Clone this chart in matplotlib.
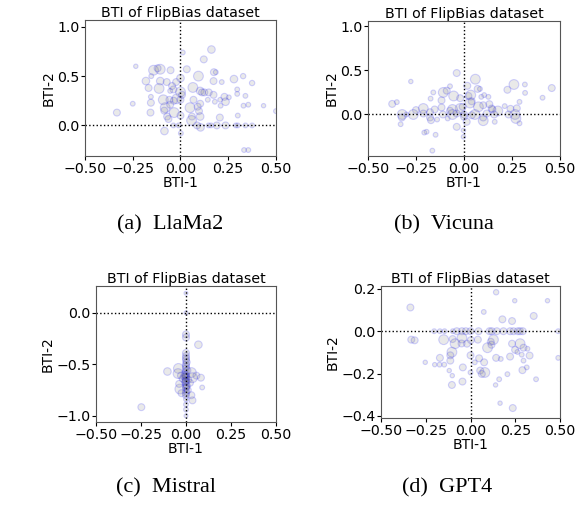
import matplotlib.pyplot as plt

# LlaMa2
llama_x = [-0.234, -0.333, -0.25, 0.012, 0.162, 0.122, 0.033, 0.094, 0.175, 0.185, 0.28, 0.328, 0.375,
           0.173, 0.216, -0.141, -0.106, -0.12, -0.052, -0.181, -0.153, -0.106, -0.167, -0.112, -0.072,
           -0.023, 0.0, -0.044, -0.037, 0.065, 0.103, 0.113, 0.125, 0.148, 0.173, -0.155, -0.155, -0.09,
           -0.058, -0.019, 0.0, -0.035, 0.068, 0.103, 0.143, 0.208, 0.23, 0.253, 0.297, 0.34, 0.297,
           0.236, 0.18, 0.21, 0.355, 0.33, 0.435, 0.5, -0.08, -0.085, -0.054, -0.033, 0.0, 0.05, 0.09,
           0.097, 0.103, 0.06, -0.157, -0.07, -0.063, 0.058, 0.087, 0.105, 0.147, 0.16, 0.19, 0.236,
           0.29, 0.30, 0.34, 0.375, 0.206, 0.30, -0.037, -0.01, -0.084, 0.002, 0.333, 0.355, 0.0,
           0.008, -0.054]
llama_y = [0.60, 0.13, 0.22, 0.74, 0.77, 0.67, 0.57, 0.50, 0.54, 0.54, 0.47, 0.50, 0.43,
           0.45, 0.44, 0.56, 0.57, 0.58, 0.56, 0.45, 0.50, 0.45, 0.38, 0.375, 0.44,
           0.44, 0.48, 0.40, 0.365, 0.385, 0.35, 0.335, 0.335, 0.335, 0.31, 0.29, 0.23, 0.26,
           0.26, 0.27, 0.26, 0.25, 0.26, 0.22, 0.26, 0.26, 0.29, 0.285, 0.32, 0.30, 0.365,
           0.24, 0.24, 0.20, 0.21, 0.20, 0.20, 0.145, 0.18, 0.15, 0.21, 0.13, 0.10, 0.18, 0.19,
           0.145, 0.09, 0.09, 0.13, 0.09, 0.065, 0.05, 0.0, -0.02, 0.0, 0.0, 0.0, 0.0,
           0.0, 0.0, 0.0, 0.0, 0.08, 0.10, 0.0, 0.0, -0.057, -0.08, -0.25, -0.25, 0.34,
           0.31, 0.35]
llama_s = [10, 25, 12, 12, 30, 25, 25, 50, 25, 12, 30, 15, 15,
           25, 12, 50, 50, 25, 25, 30, 12, 30, 25, 50, 25,
           25, 30, 25, 25, 50, 30, 25, 25, 25, 25, 12, 25, 50,
           25, 50, 25, 25, 25, 25, 12, 12, 25, 12, 12, 12, 12,
           30, 12, 12, 12, 12, 10, 12, 50, 25, 25, 50, 25, 50, 25,
           25, 30, 25, 25, 25, 25, 50, 25, 30, 12, 12, 25, 25,
           12, 12, 12, 12, 25, 12, 12, 12, 30, 12, 12, 12, 50,
           25, 12]

# Vicuna
vicuna_x = [-0.277, -0.374, -0.35, -0.038, 0.059, 0.017, 0.071, 0.083, -0.073, -0.108, -0.09, -0.16,
            -0.174, -0.117, -0.054, -0.02, 0.023, 0.035, 0.04, 0.09, 0.105, 0.127, 0.226, 0.26,
            0.317, 0.318, 0.289, 0.409, 0.457, 0.212, 0.242, 0.275, 0.176, 0.148, 0.132, 0.10,
            0.075, -0.02, -0.06, -0.073, -0.117, -0.153, -0.212, -0.25, -0.177, -0.212, -0.264,
            -0.322, -0.324, -0.33, -0.30, -0.177, -0.172, -0.14, -0.11, -0.195, -0.207, -0.148,
            -0.165, -0.085, -0.06, -0.038, 0.0, 0.0, 0.014, -0.003, -0.003, 0.057, 0.1, 0.1,
            0.04, 0.118, 0.16, 0.157, 0.232, 0.266, 0.27, 0.289, -0.038, 0.144, 0.031, -0.007]
vicuna_y = [0.374, 0.12, 0.14, 0.47, 0.40, 0.325, 0.29, 0.29, 0.32, 0.25, 0.27, 0.25,
            0.18, 0.16, 0.21, 0.185, 0.21, 0.22, 0.15, 0.20, 0.22, 0.20, 0.28, 0.34,
            0.34, 0.245, 0.143, 0.19, 0.30, 0.095, 0.064, 0.07, 0.04, 0.057, 0.117, 0.105,
            0.087, 0.068, 0.057, 0.042, 0.08, 0.057, 0.068, 0.05, 0.026, 0.011, 0.0,
            0.0, -0.034, -0.11, 0.0, -0.034, -0.064, -0.057, 0.0, -0.196, -0.205, -0.23,
            -0.41, -0.045, 0.0, 0.011, 0.0, -0.026, -0.083, -0.18, -0.253, 0.0, -0.07, -0.034,
            -0.008, 0.011, -0.083, 0.0, 0.0, 0.0, -0.045, -0.10, -0.14, 0.068, 0.13, 0.087]
vicuna_s = [10, 25, 12, 25, 50, 25, 25, 12, 12, 50, 25, 12,
            12, 25, 50, 25, 25, 50, 25, 12, 12, 12, 25, 50,
            12, 12, 12, 12, 25, 12, 25, 25, 50, 25, 25, 25,
            50, 50, 50, 25, 25, 25, 50, 25, 25, 25, 50,
            50, 25, 12, 12, 25, 25, 12, 25, 12, 12, 12,
            12, 12, 50, 25, 25, 25, 25, 10, 10, 50, 50, 25,
            25, 25, 12, 25, 25, 50, 50, 12, 25, 25, 50, 25]

# Mistral
mistral_x = [0.0, 0.0, 0.0, 0.0, 0.069, 0.0, 0.0, 0.0, 0.0, 0.0, 0.0, 0.0, 0.0, 0.0, 0.0, 0.0,
             0.0, 0.0, 0.0, 0.0, 0.0, 0.0, 0.0, 0.0, 0.0, 0.0, 0.0, 0.0, 0.0, 0.0,
             -0.103, -0.042, -0.044, -0.028, 0.03, 0.036, 0.012, 0.058, 0.083, 0.09, -0.034,
             -0.038, -0.025, 0.03, 0.036, -0.248, 0.022, -0.018, -0.008, 0.008, 0.005, -0.005,
             0.01, -0.01, 0.004]
mistral_y = [0.19, 0.0, -0.21, -0.24, -0.31, -0.39, -0.42, -0.46, -0.50, -0.52, -0.54, -0.57,
             -0.60, -0.62, -0.63, -0.65, -0.67, -0.70, -0.72, -0.73, -0.76, -0.78, -0.80, -0.84,
             -0.89, -0.94, -1.0, -0.44, -0.66, -0.61,
             -0.57, -0.54, -0.59, -0.61, -0.58, -0.63, -0.65, -0.61, -0.63, -0.725, -0.74,
             -0.69, -0.78, -0.80, -0.85, -0.916, -0.68, -0.64, -0.60, -0.56, -0.71, -0.67,
             -0.75, -0.62, -0.48]
mistral_s = [8, 8, 25, 25, 30, 25, 25, 25, 25, 25, 25, 25, 25, 25, 25, 25, 25, 25, 25, 25,
             25, 25, 25, 12, 12, 12, 8, 25, 25, 25,
             30, 50, 50, 25, 50, 50, 25, 25, 25, 12, 50,
             25, 25, 25, 25, 25, 25, 25, 25, 25, 25, 25,
             25, 25, 25]

# GPT4
gpt4_x = [-0.336, 0.143, 0.247, 0.43, 0.074, 0.178, 0.232, 0.353, -0.203, -0.171, -0.145, -0.099,
          -0.077, -0.048, -0.026, 0.0, 0.045, 0.106, 0.119, 0.147, 0.184, 0.221, 0.240, 0.264,
          0.277, 0.292, -0.331, -0.312, -0.15, -0.10, -0.048, -0.086, -0.02, -0.05, 0.041, 0.128,
          0.113, 0.095, 0.117, 0.002, 0.0, 0.232, 0.277, 0.296, 0.318, 0.33, 0.286, 0.249, 0.262,
          0.296, 0.314, 0.29, 0.366, -0.104, -0.113, -0.113, -0.171, -0.2, -0.173, -0.147,
          -0.253, -0.119, -0.102, -0.104, -0.045, -0.043, 0.0, 0.024, 0.048, 0.076, 0.054, 0.08,
          0.063, 0.143, 0.169, 0.221, 0.206, 0.16, 0.14, 0.165, 0.236, 0.49, 0.49]
gpt4_y = [0.112, 0.184, 0.144, 0.144, 0.091, 0.056, 0.048, 0.072, 0.0, 0.0, 0.0, 0.0,
          0.0, 0.0, 0.0, 0.0, 0.0, 0.0, 0.0, 0.0, 0.0, 0.0, 0.0, 0.0,
          0.0, 0.0, -0.04, -0.043, -0.04, -0.037, -0.032, -0.059, -0.059, -0.058, -0.04, -0.04,
          -0.05, -0.078, -0.064, -0.042, -0.114, -0.059, -0.059, -0.078, -0.083, -0.115, -0.111, -0.088,
          -0.098, -0.139, -0.171, -0.184, -0.227, -0.099, -0.114, -0.139, -0.126, -0.158, -0.158,
          -0.158, -0.147, -0.186, -0.21, -0.254, -0.238, -0.171, -0.195, -0.147, -0.128, -0.147,
          -0.186, -0.195, -0.202, -0.126, -0.131, -0.12, -0.203, -0.227, -0.254, -0.34, -0.363, -0.126, 0.0]
gpt4_s = [25, 15, 10, 10, 12, 25, 25, 25, 12, 12, 12, 12,
          25, 25, 25, 25, 25, 25, 25, 25, 25, 25, 25, 25,
          25, 25, 25, 25, 50, 25, 50, 50, 25, 25, 25, 50,
          25, 50, 25, 25, 25, 25, 50, 25, 12, 25, 12, 25, 12,
          12, 12, 25, 12, 50, 25, 25, 25, 10, 12, 12,
          10, 10, 10, 25, 25, 25, 12, 12, 25, 25, 25, 50,
          25, 25, 12, 25, 12, 12, 10, 10, 25, 12, 12]

panels = [
    (llama_x, llama_y, llama_s, (-0.31, 1.07), [0.0, 0.5, 1.0], '(a)  LlaMa2'),
    (vicuna_x, vicuna_y, vicuna_s, (-0.47, 1.06), [0.0, 0.5, 1.0], '(b)  Vicuna'),
    (mistral_x, mistral_y, mistral_s, (-1.06, 0.26), [-1.0, -0.5, 0.0], '(c)  Mistral'),
    (gpt4_x, gpt4_y, gpt4_s, (-0.41, 0.214), [-0.4, -0.2, 0.0, 0.2], '(d)  GPT4'),
]
boxes = [
    [0.1463, 0.693, 0.3287, 0.2677],
    [0.6334, 0.693, 0.3305, 0.2657],
    [0.1652, 0.1693, 0.3098, 0.2677],
    [0.6558, 0.1772, 0.3081, 0.2600],
]
caption_pos = [(170, 225), (444, 225), (166, 488), (447, 488)]

fig = plt.figure(figsize=(5.81, 5.08), dpi=100)
for (px, py, ps, ylim, yt, cap), box, cp in zip(panels, boxes, caption_pos):
    ax = fig.add_axes(box)
    ax.scatter(px, py, s=ps, facecolor='gray', edgecolor='blue', alpha=0.17, linewidth=0.8)
    ax.axhline(0, color='black', linestyle=':', linewidth=1)
    ax.axvline(0, color='black', linestyle=':', linewidth=1)
    ax.set_xlim(-0.5, 0.5)
    ax.set_ylim(*ylim)
    ax.set_xticks([-0.5, -0.25, 0.0, 0.25, 0.5])
    ax.set_xticklabels(['−0.50', '−0.25', '0.00', '0.25', '0.50'])
    ax.set_yticks(yt)
    ax.tick_params(labelsize=10.2, length=3, pad=1)
    ax.set_xlabel('BTI-1', fontsize=10, labelpad=0)
    ax.set_ylabel('BTI-2', fontsize=10, labelpad=1)
    ax.set_title('BTI of FlipBias dataset', fontsize=10.2, pad=2)
    for sp in ax.spines.values():
        sp.set_color('#555555')
    fig.text(cp[0] / 581, 1 - cp[1] / 508, cap, family='Liberation Serif', fontsize=16,
             ha='center', va='center')

fig.savefig('out.png', dpi=100)
